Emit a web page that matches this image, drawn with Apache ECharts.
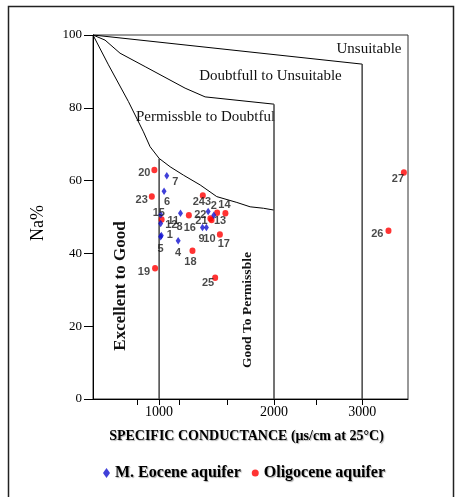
<!DOCTYPE html>
<html><head><meta charset="utf-8">
<script src="https://cdn.jsdelivr.net/npm/echarts@6/dist/echarts.min.js"></script>
<style>html,body{margin:0;padding:0;background:#fff}#c{width:455px;height:497px}</style>
</head><body><div id="c"></div><script>
// ---- data (Specific conductance µS/cm, Na%) ----
const xTickLabels = [1000, 2000, 3000];
const xMinorTicks = [850, 1150, 1550, 2450];
const yTickValues = [0, 20, 40, 60, 80, 100];

const eoceneIds = [1, 2, 3, 4, 5, 6, 7, 8, 9, 10, 12, 15];
const eoceneEC  = [1016, 1433, 1385, 1142, 1011, 1036, 1056, 1160, 1337, 1370, 1011, 1012];
const eoceneNa  = [44.9, 50.5, 51.5, 43.5, 44.6, 57.1, 61.3, 51.0, 47.1, 47.1, 48.2, 50.6];

const oligoIds = [11, 13, 14, 16, 17, 18, 19, 20, 21, 22, 23, 24, 25, 26, 27];
const oligoEC  = [1018, 1462, 1535, 1226, 1486, 1255, 971, 966, 1414, 1404, 948, 1340, 1445, 3338, 3544];
const oligoNa  = [49.3, 51.2, 51.0, 50.5, 45.2, 40.7, 35.9, 62.9, 49.2, 49.6, 55.6, 55.9, 33.3, 46.2, 62.2];

// classification boundaries (Wilcox diagram)
const unsuitEC = [580, 3000];
const unsuitNa = [100, 92];
const doubtEC = [580, 648, 738, 902, 1196, 1359, 2000];
const doubtNa = [100, 98.6, 95.0, 91.3, 85.4, 83.0, 81.0];
const permEC = [580, 668, 791, 890, 936, 1000, 1081, 1183, 1318, 1459, 1639, 1764, 1894, 2000];
const permNa = [100, 91.8, 81.7, 73.4, 69.3, 66.1, 63.8, 61.5, 58.8, 55.6, 54.0, 52.8, 52.4, 51.9];
const vertEC = [1000, 2000, 3000];
const vertTopNa = [66.1, 81.0, 92.0];

const xMin = 580, xMax = 3600;

// ---- styles ----
const serif = '"Liberation Serif","Times New Roman",serif';
const sans = '"Liberation Sans",Arial,sans-serif';
const labelPlace = {
  1:['right',3,[0,-1]], 2:['top',0,[0,0]], 3:['top',0,[0,0]], 4:['bottom',3,[0,0]],
  5:['bottom',3,[0,0]], 6:['bottom',2,[3,0]], 7:['right',3,[0,6]], 8:['bottom',4,[-1,0]],
  9:['bottom',2,[-1,0]], 10:['bottom',2,[3,0]], 11:['right',3,[0,1]], 12:['right',1,[1,1]],
  15:['inside',0,[-2,-2]], 13:['bottom',0,[3,0]], 14:['top',0,[-1,0]], 16:['bottom',4,[1,0]],
  17:['bottom',1,[4,0]], 18:['bottom',2,[-2,0]], 19:['left',2,[0,4]], 20:['left',1,[0,3]],
  21:['left',1,[0,1]], 22:['left',1,[0,-3]], 23:['left',1,[0,3]], 24:['bottom',-2,[-4,0]],
  25:['left',-2,[0,5]], 26:['left',2,[0,3]], 27:['bottom',-2,[-6,0]]
};

const sq = Math.sqrt;
function pts(ec, na, ids) {
  return ec.map((x, i) => {
    const p = labelPlace[ids[i]];
    return { value: [sq(x), na[i]], name: String(ids[i]),
      label: { position: p[0], distance: p[1], offset: p[2] } };
  });
}
function curve(ec, na, color, width) {
  return { type: 'line', data: ec.map((x, i) => [sq(x), na[i]]), symbol: 'none', silent: true,
    lineStyle: { color: color, width: width }, z: 1, animation: false };
}
const pointLabel = { show: true, formatter: '{b}', fontFamily: sans, fontWeight: 'bold', fontSize: 11, color: '#1a1a1a' };

const series = [
  curve(unsuitEC, unsuitNa, '#000', 1),
  curve(doubtEC, doubtNa, '#000', 1),
  curve(permEC, permNa, '#000', 1)
];
vertEC.forEach((x, i) => series.push(curve([x, x], [vertTopNa[i], 0], '#444', 1.5)));
series.push({ name: 'Oligocene aquifer', type: 'scatter', symbol: 'circle', symbolSize: [6, 6.5],
  itemStyle: { color: '#ff0000' }, label: pointLabel, data: pts(oligoEC, oligoNa, oligoIds), z: 3 });
series.push({ name: 'M. Eocene aquifer', type: 'scatter', symbol: 'diamond', symbolSize: [5, 7.5],
  itemStyle: { color: '#1010d0' }, label: pointLabel, data: pts(eoceneEC, eoceneNa, eoceneIds), z: 4 });

const txt = (t, x, y, font, rot) => ({ type: 'text', x: x, y: y, rotation: rot || 0, silent: true,
  style: { text: t, font: font, fill: '#111', textAlign: 'center', textVerticalAlign: 'middle', align: 'center', verticalAlign: 'middle' } });

const chart = echarts.init(document.getElementById('c'), null, { renderer: 'canvas' });
chart.setOption({
  animation: false,
  grid: { left: 93, right: 47, top: 35, bottom: 98, show: true, borderColor: '#333', borderWidth: 1 },
  xAxis: {
    type: 'value', min: sq(xMin), max: sq(xMax), splitLine: { show: false },
    axisLine: { lineStyle: { color: '#000' } },
    axisTick: { show: true, customValues: xTickLabels.concat(xMinorTicks).map(sq), length: 6, lineStyle: { color: '#000' } },
    axisLabel: { customValues: xTickLabels.map(sq), formatter: v => String(Math.round(v * v)),
      fontFamily: serif, fontSize: 14, color: '#000', margin: 6 },
    name: 'SPECIFIC CONDUCTANCE (µs/cm at 25°C)', nameLocation: 'middle', nameGap: 30,
    nameTextStyle: { fontFamily: serif, fontWeight: 'bold', fontSize: 14, color: '#000', padding: [0, 8, 0, 0],
      textShadowColor: 'rgba(0,0,0,0.3)', textShadowBlur: 1, textShadowOffsetX: 1, textShadowOffsetY: 1 }
  },
  yAxis: {
    type: 'value', min: 0, max: 100, interval: 20, splitLine: { show: false },
    axisLine: { show: true, lineStyle: { color: '#000' } },
    axisTick: { show: true, length: 9, lineStyle: { color: '#000' } },
    axisLabel: { fontFamily: serif, fontSize: 13, color: '#000', margin: 11 },
    name: 'Na%', nameLocation: 'middle', nameRotate: 90, nameGap: 46,
    nameTextStyle: { fontFamily: serif, fontSize: 18, color: '#000', padding: [0, 12, 0, 0] }
  },
  legend: {
    left: 98, top: 460, itemWidth: 7, itemHeight: 10, itemGap: 11,
    data: [{ name: 'M. Eocene aquifer', icon: 'diamond' }, { name: 'Oligocene aquifer', icon: 'circle' }],
    textStyle: { fontFamily: serif, fontWeight: 'bold', fontSize: 16, color: '#000',
      textShadowColor: 'rgba(0,0,0,0.35)', textShadowBlur: 1, textShadowOffsetX: 1, textShadowOffsetY: 1 }
  },
  graphic: [
    { type: 'rect', silent: true, shape: { x: 8.5, y: 6.5, width: 445, height: 500 }, style: { fill: 'none', stroke: '#222', lineWidth: 1.5 } },
    txt('Unsuitable', 369, 49, '15px ' + serif),
    txt('Doubtfull to Unsuitable', 270.5, 76.5, '15px ' + serif),
    txt('Permissble to Doubtful', 205.5, 117, '15px ' + serif),
    txt('Excellent to Good', 121, 286, 'bold 17px ' + serif, Math.PI / 2),
    txt('Good To Permissble', 248, 310, 'bold 13.5px ' + serif, Math.PI / 2)
  ],
  series: series
});
</script></body></html>
